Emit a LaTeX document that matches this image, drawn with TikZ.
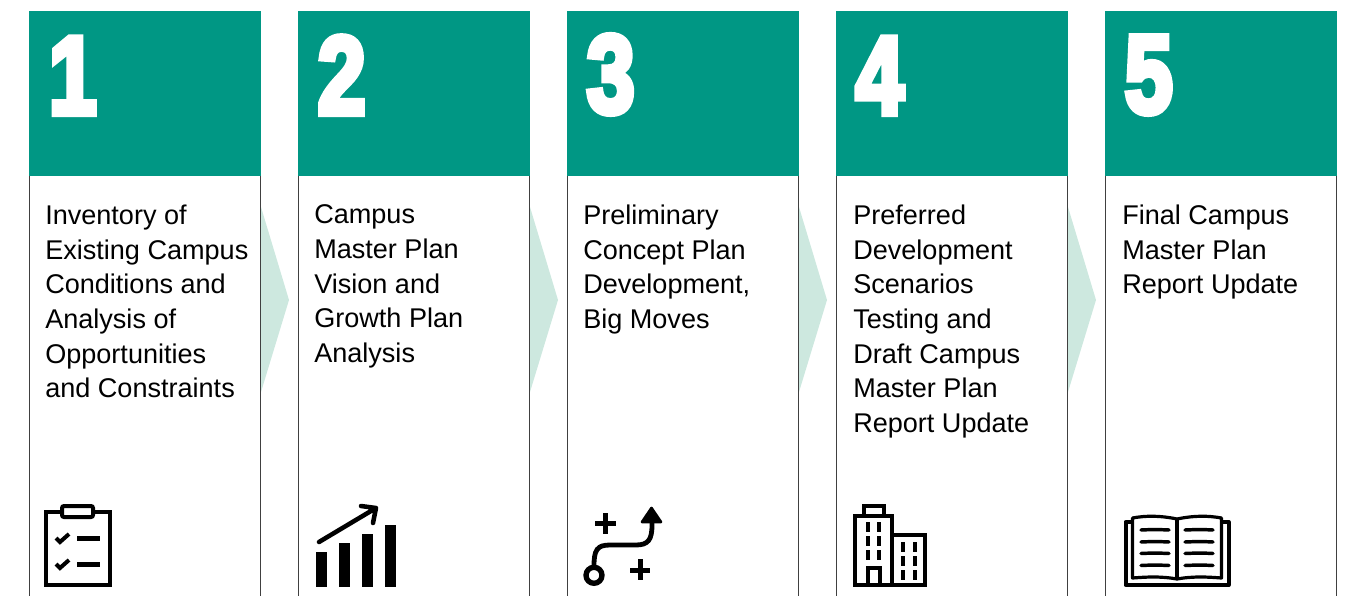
\documentclass[tikz,border=0pt]{standalone}
\usepackage{fontspec}
\setmainfont{Liberation Sans}
\newfontfamily\numf[FakeBold=6]{Liberation Sans Bold}
\definecolor{teal1}{HTML}{009784}
\definecolor{chev}{HTML}{CDE8DF}
\tikzset{
 head/.style={fill=teal1,draw=none,minimum width=174pt,minimum height=123.75pt,inner sep=0,outer sep=0,anchor=north west},
 num/.style={text=white,anchor=south west,inner sep=0,font=\numf\fontsize{83}{83}\selectfont,xscale=.78},
 body/.style={anchor=north west,inner sep=0,align=left,font=\fontsize{20.3}{26}\selectfont,text=black},
 side/.style={draw=black!75,line width=.6pt},
 chevron/.style={fill=chev,draw=none},
 ico/.style={line width=3pt,draw=black,line join=miter},
}
\begin{document}
\begin{tikzpicture}[x=.75pt,y=-.75pt]
\useasboundingbox (0,0) rectangle (1357,596);
\foreach \x/\n in {29/1,298/2,567/3,836/4,1105/5}{
  \draw[side] (\x+.3,176) -- (\x+.3,596);
  \draw[side] (\x+231,176) -- (\x+231,596);
  \node[head] (h\n) at (\x,11) {};
  \node[num] (n\n) at (\x+19.5,114) {\n};
}
\foreach \x/\n in {261/a,530/b,799/c,1068/d}{
  \fill[chevron] (\x,207) -- (\x+28,300) -- (\x,392) -- cycle;
}
\node[body] (t1) at (45,204.5) {Inventory of\\Existing Campus\\Conditions and\\Analysis of\\Opportunities\\and Constraints};
\node[body] (t2) at (314,204.5) {Campus\\Master Plan\\Vision and\\Growth Plan\\Analysis};
\node[body] (t3) at (583,204.5) {Preliminary\\Concept Plan\\Development,\\Big Moves};
\node[body] (t4) at (853,204.5) {Preferred\\Development\\Scenarios\\Testing and\\Draft Campus\\Master Plan\\Report Update};
\node[body] (t5) at (1122,204.5) {Final Campus\\Master Plan\\Report Update};
% clipboard
\draw[ico] (62,512) -- (46,512) -- (46,585) -- (110,585) -- (110,512) -- (94,512);
\draw[ico,rounded corners=1.5pt] (62,506) rectangle (93,517);
\draw[line width=3pt] (56,538) -- (60,542) -- (69,534);
\draw[line width=3pt] (56,564) -- (60,568) -- (69,560);
\fill (77,536) rectangle (100,541);
\fill (77,562) rectangle (100,567);
% chart
\fill (315.5,552) rectangle (327,587);
\fill (338.5,543) rectangle (350,587);
\fill (361.5,534) rectangle (373,587);
\fill (384.5,525) rectangle (396,587);
\draw[line width=3.4pt,line cap=round,line join=round] (319,542) -- (376,508) (361,506) -- (376,508) -- (373,523);
% path
\draw[line width=3.6pt] (594,566) .. controls (594,550) and (597,545) .. (610,545) -- (636,545) .. controls (648,545) and (652,540) .. (652,525) -- (652,515);
\draw[line width=4pt,fill=white] (594,575.3) circle (8);
\fill[line join=round,draw,line width=2pt] (651.5,508) -- (661,522) -- (642,522) -- cycle;
\draw[line width=3.75pt] (595,523) -- (616,523) (605.5,513) -- (605.5,534);
\draw[line width=3.75pt] (630,570) -- (650,570) (640,559) -- (640,580);
% buildings
\draw[ico] (855,585) rectangle (892,516);
\draw[ico] (864,516) -- (864,506) -- (884,506) -- (884,516);
\draw[ico] (892,535) -- (924.5,535) -- (924.5,585) -- (892,585);
\draw[ico] (868,585) -- (868,567.5) -- (880,567.5) -- (880,585);
\foreach \yy in {522,536,550}{\fill (866,\yy) rectangle (870,\yy+10); \fill (877,\yy) rectangle (881,\yy+10);}
\foreach \yy in {542,556,570}{\fill (901,\yy) rectangle (905,\yy+10); \fill (913,\yy) rectangle (917,\yy+10);}
% book
\draw[ico,line join=round] (1132,522) -- (1125.5,522) -- (1125.5,585) -- (1228.5,585) -- (1228.5,522) -- (1222,522);
\draw[line width=2.4pt,line join=round] (1177,579) .. controls (1160,576) and (1146,577) .. (1132.5,578) -- (1132.5,518) .. controls (1146,515.5) and (1160,515.5) .. (1177,519) .. controls (1194,515.5) and (1208,515.5) .. (1221.5,518) -- (1221.5,578) .. controls (1208,577) and (1194,576) .. (1177,579) -- cycle;
\draw[line width=2.4pt] (1177,519) -- (1177,579);
\foreach \yy in {530,542,553.5,565.5}{
 \draw[line width=2.6pt,line cap=round] (1141,\yy) .. controls (1150,\yy-.5) and (1160,\yy-.5) .. (1169,\yy);
 \draw[line width=2.6pt,line cap=round] (1185,\yy) .. controls (1195,\yy-.5) and (1205,\yy-.5) .. (1213,\yy);
}
\end{tikzpicture}
\end{document}
